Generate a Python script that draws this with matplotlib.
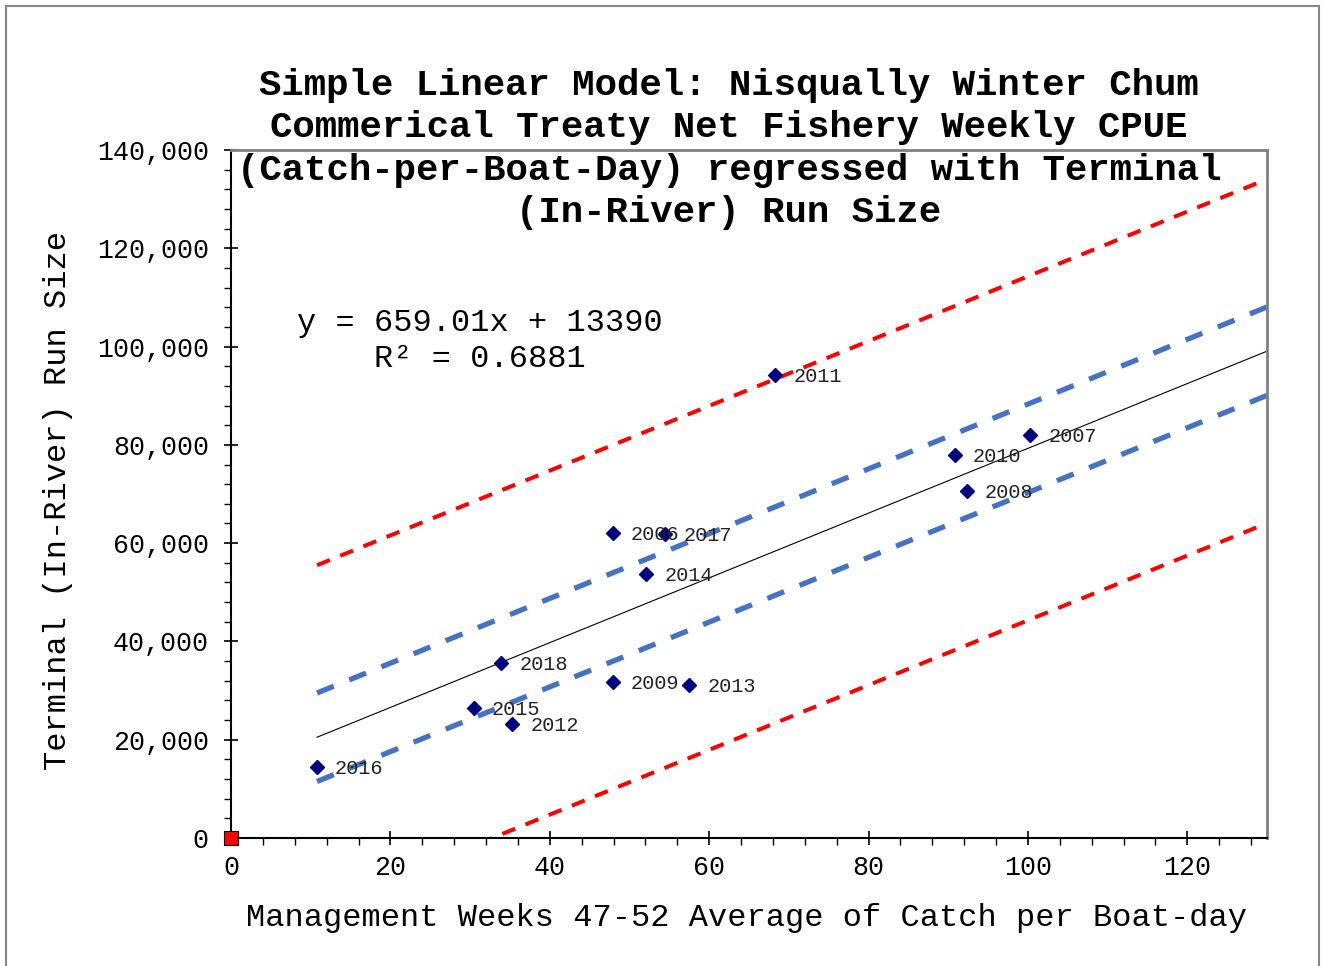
import matplotlib
matplotlib.use("Agg")
import matplotlib.pyplot as plt
import numpy as np
from matplotlib.ticker import MultipleLocator, FuncFormatter
from matplotlib.patches import Rectangle

plt.rcParams['font.family'] = ['Liberation Mono', 'DejaVu Sans Mono']
plt.rcParams['lines.scale_dashes'] = False

# Data
years = ['2016', '2015', '2012', '2018', '2009', '2013', '2006', '2017', '2014', '2011', '2010', '2008', '2007']
cpue = [10.8, 30.5, 35.3, 33.9, 47.9, 57.5, 47.9, 54.5, 52.1, 68.3, 90.8, 92.3, 100.3]
run_size = [14450, 26450, 23200, 35600, 31750, 31100, 62070, 61860, 53700, 94200, 77900, 70600, 82000]

slope = 659.01
intercept = 13390
ci_offset = 9000      # inner (blue) band half-width
pi_offset = 35000     # outer (red) band half-width
x_max = 130

title = ("Simple Linear Model: Nisqually Winter Chum\n"
         "Commerical Treaty Net Fishery Weekly CPUE\n"
         "(Catch-per-Boat-Day) regressed with Terminal\n"
         "(In-River) Run Size")

fig = plt.figure(figsize=(13.24, 9.66), dpi=100)
ax = fig.add_axes([231/1324, 128/966, 1036/1324, 688/966])

xs = np.array([min(cpue), x_max])
fit = slope * xs + intercept
ax.plot(xs, fit, color='black', lw=0.8, zorder=2)
ax.plot(xs, fit + ci_offset, color='#4472C4', lw=3.8, dashes=(13, 12), zorder=2)
ax.plot(xs, fit - ci_offset, color='#4472C4', lw=3.8, dashes=(13, 12), zorder=2)
ax.plot(xs, fit + pi_offset, color='#FF0000', lw=2.9, dashes=(10, 8), zorder=2)
ax.plot(xs, fit - pi_offset, color='#FF0000', lw=2.9, dashes=(10, 8), zorder=2)

ax.plot(cpue, run_size, linestyle='none', marker='D', color='#000080', ms=7.5, zorder=4)
for x, y, lab in zip(cpue, run_size, years):
    ax.annotate(lab, (x, y), xytext=(13, -1), textcoords='offset points',
                fontsize=14.6, va='center', ha='left', color='#222222', zorder=5)

ax.plot([0], [0], linestyle='none', marker='s', color='#FF0000', mec='black',
        mew=0.8, ms=10, clip_on=False, zorder=6)

ax.set_xlim(0, x_max)
ax.set_ylim(0, 140000)
ax.xaxis.set_major_locator(MultipleLocator(20))
ax.xaxis.set_minor_locator(MultipleLocator(4))
ax.yaxis.set_major_locator(MultipleLocator(20000))
ax.yaxis.set_minor_locator(MultipleLocator(4000))
ax.yaxis.set_major_formatter(FuncFormatter(lambda v, p: f"{int(v):,}"))
ax.tick_params(which='major', direction='inout', length=10, width=1.2, labelsize=19.2)
ax.tick_params(axis='y', which='major', pad=11)
ax.tick_params(axis='x', which='major', pad=7)
ax.tick_params(which='minor', direction='out', length=5, width=1.0)

for s in ['left', 'bottom']:
    ax.spines[s].set_color('black')
    ax.spines[s].set_linewidth(1.5)
for s in ['top', 'right']:
    ax.spines[s].set_color('#808080')
    ax.spines[s].set_linewidth(2)

fig.text(746/1324, 1 - 918/966, "Management Weeks 47-52 Average of Catch per Boat-day",
         fontsize=23, ha='center', va='center')
fig.text(58/1324, 1 - 501/966, "Terminal (In-River) Run Size",
         fontsize=23, ha='center', va='center', rotation=90)

fig.text(729/1324, 1 - 149/966, title, fontsize=26.9, fontweight='bold',
         ha='center', va='center', linespacing=1.26)

fig.text(480/1324, 1 - 341/966, "y = 659.01x + 13390\nR² = 0.6881",
         fontsize=23, ha='center', va='center', linespacing=1.22)

fig.patches.append(Rectangle((6/1324, -0.05), 1313/1324, 1.05 - 6/966,
                             transform=fig.transFigure, fill=False,
                             edgecolor='#888888', lw=1.5))

fig.savefig('out.png', dpi=100)
